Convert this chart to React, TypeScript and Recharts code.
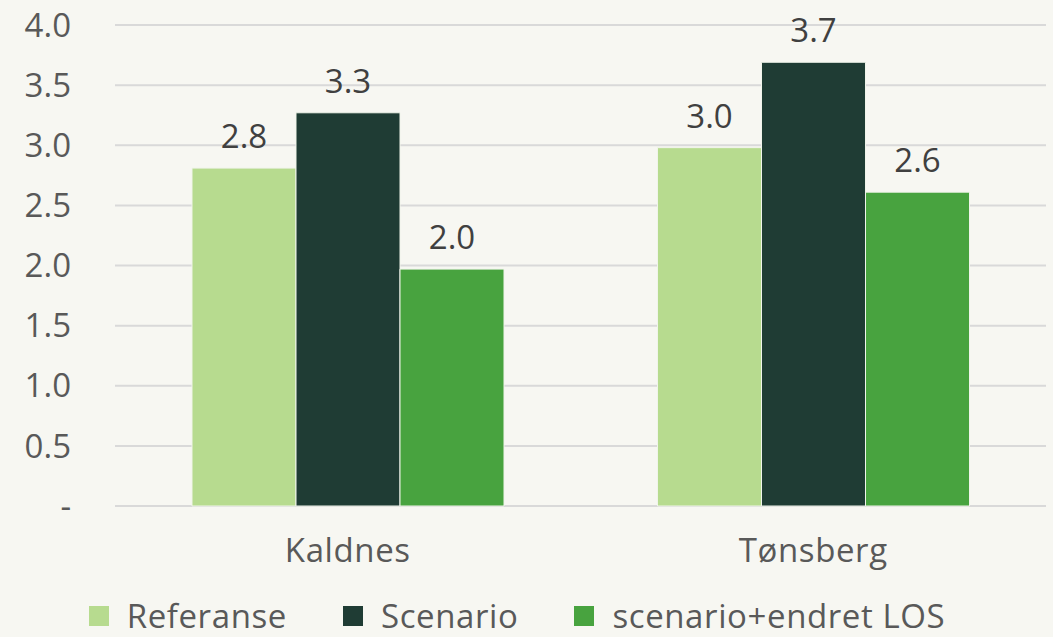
import React from 'react';
import {
  BarChart,
  Bar,
  XAxis,
  YAxis,
  CartesianGrid,
  Legend,
  LabelList,
} from 'recharts';

const categories = ['Kaldnes', 'Tønsberg'];
const referanse = [2.81, 2.98];
const scenario = [3.27, 3.69];
const scenarioLos = [1.97, 2.61];
const yTicks = [0, 0.5, 1, 1.5, 2, 2.5, 3, 3.5, 4];

const SERIES = [
  { key: 'referanse', name: 'Referanse', color: '#b7db8f' },
  { key: 'scenario', name: 'Scenario', color: '#1f3c34' },
  { key: 'scenarioLos', name: 'scenario+endret LOS', color: '#48a33f' },
];

const FONT = '"Open Sans", Lato, sans-serif';

const data = categories.map((name, i) => ({
  name,
  referanse: referanse[i],
  scenario: scenario[i],
  scenarioLos: scenarioLos[i],
}));

const LegendContent = () => (
  <div
    style={{
      display: 'flex',
      justifyContent: 'center',
      alignItems: 'center',
      gap: 56,
      fontFamily: FONT,
      fontSize: 33,
      lineHeight: '36px',
      letterSpacing: 0.6,
      color: '#595959',
      paddingTop: 17,
      paddingRight: 12,
    }}
  >
    {SERIES.map((s) => (
      <div key={s.key} style={{ display: 'flex', alignItems: 'center' }}>
        <span
          style={{ width: 20, height: 20, background: s.color, marginRight: 18, display: 'inline-block' }}
        />
        <span>{s.name}</span>
      </div>
    ))}
  </div>
);

export default function App() {
  return (
    <div style={{ position: 'absolute', left: 0, top: 0, width: 1053, height: 637, background: '#f7f7f2' }}>
      <BarChart
        width={1053}
        height={637}
        data={data}
        margin={{ top: 25, right: 7, left: 0, bottom: 0 }}
        barCategoryGap={77}
        barGap={0}
      >
        <CartesianGrid vertical={false} stroke="#d9d9d9" strokeWidth={2} />
        <XAxis
          dataKey="name"
          axisLine={false}
          tickLine={false}
          tickSize={0}
          tickMargin={33}
          height={75}
          tick={{ fontSize: 33, fill: '#595959', fontFamily: FONT, letterSpacing: 0.6 }}
        />
        <YAxis
          domain={[0, 4]}
          ticks={yTicks}
          interval={0}
          axisLine={false}
          tickLine={false}
          tickSize={0}
          tickMargin={44}
          width={115}
          tickFormatter={(v: number) => (v === 0 ? '-' : v.toFixed(1))}
          tick={{ fontSize: 33, fill: '#595959', fontFamily: FONT }}
        />
        <Legend verticalAlign="bottom" height={56} content={<LegendContent />} />
        {SERIES.map((s) => (
          <Bar
            key={s.key}
            dataKey={s.key}
            name={s.name}
            fill={s.color}
            stroke="#f0f4ea"
            strokeWidth={1}
            isAnimationActive={false}
          >
            <LabelList
              dataKey={s.key}
              position="top"
              offset={20}
              formatter={(v: number) => v.toFixed(1)}
              style={{ fontSize: 33, fill: '#404040', fontFamily: FONT }}
            />
          </Bar>
        ))}
      </BarChart>
    </div>
  );
}
